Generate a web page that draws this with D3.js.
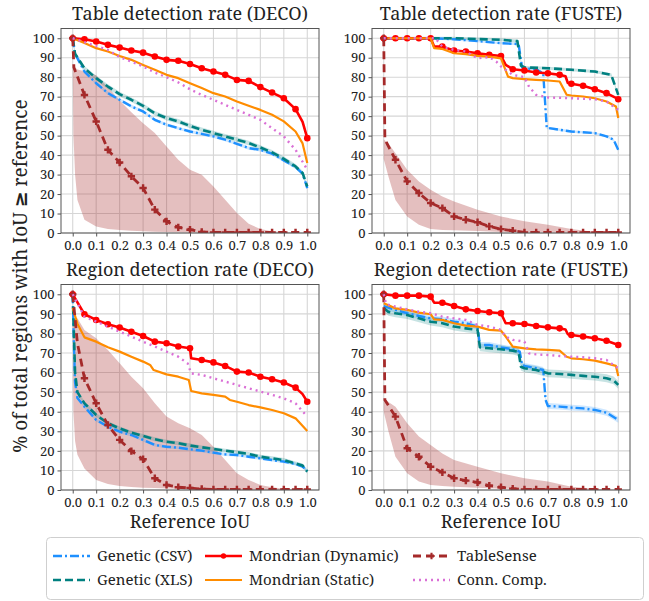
<!DOCTYPE html>
<html>
<head>
<meta charset="utf-8">
<script src="https://cdn.jsdelivr.net/npm/d3@7"></script>
<style>
  body { margin: 0; background: #fff; }
</style>
</head>
<body>
<svg id="chart" width="649" height="601"></svg>
<script>
const FONT = "Noto Serif";

// series names, legend order
const seriesNames = ["Genetic (CSV)", "Genetic (XLS)", "Mondrian (Dynamic)", "Mondrian (Static)", "TableSense", "Conn. Comp."];
const panelTitles = ["Table detection rate (DECO)", "Table detection rate (FUSTE)", "Region detection rate (DECO)", "Region detection rate (FUSTE)"];
const xTicks = [0, 0.1, 0.2, 0.3, 0.4, 0.5, 0.6, 0.7, 0.8, 0.9, 1.0];
const yTicks = [0, 10, 20, 30, 40, 50, 60, 70, 80, 90, 100];
const tsTail = [[0.65, 0.3], [0.7, 0.3], [0.75, 0.3], [0.8, 0.3], [0.85, 0.3], [0.9, 0.3], [0.95, 0.3], [1, 0.3]];

// --- Table detection rate (DECO)
const tdDecoCsv = [[0,100],[0.01,92],[0.05,82.9],[0.1,76.9],[0.15,71.8],[0.2,68.4],[0.25,65],[0.3,62.4],[0.35,58.1],[0.4,55.6],[0.45,53.8],[0.5,52.1],[0.55,50.9],[0.6,49.6],[0.65,47.9],[0.7,45.8],[0.75,43.6],[0.8,42.7],[0.85,40.7],[0.9,37.3],[0.95,33.8],[0.98,30.5],[1,23.1]];
const tdDecoXls = [[0,100],[0.01,92],[0.05,84.6],[0.1,79.5],[0.15,75.2],[0.2,71.3],[0.25,68.4],[0.3,65.3],[0.35,61.5],[0.4,59],[0.45,57.3],[0.5,55],[0.55,53],[0.6,51.3],[0.65,49.6],[0.7,47.9],[0.75,46.2],[0.8,43.9],[0.85,41.4],[0.9,38.1],[0.95,34.2],[0.98,30.8],[1,23.9]];
const tdDecoDyn = [[0,100],[0.05,99.5],[0.1,98.3],[0.15,96.6],[0.2,95.2],[0.25,93.7],[0.3,92.6],[0.35,90.6],[0.4,88.9],[0.45,88.4],[0.5,86.8],[0.55,84.6],[0.6,82.9],[0.65,81.2],[0.7,78.6],[0.75,78.1],[0.8,74.9],[0.85,72.1],[0.9,69.2],[0.95,63.6],[0.98,57],[1,48.7]];
const tdDecoSta = [[0,100],[0.05,97.5],[0.1,94.9],[0.15,93.2],[0.2,90.9],[0.25,88.9],[0.3,86.3],[0.35,83.8],[0.4,81.2],[0.45,79.5],[0.5,76.9],[0.55,74.4],[0.6,71.8],[0.65,70.1],[0.7,67.5],[0.75,65.3],[0.8,63.2],[0.85,60.7],[0.9,57.3],[0.95,52.1],[0.98,46],[1,35.9]];
const tdDecoTs = [[0,100],[0.005,85],[0.05,70.9],[0.1,57.3],[0.15,42.7],[0.2,36.2],[0.25,29.1],[0.3,23.1],[0.35,12],[0.4,6],[0.45,2.9],[0.5,1.7],[0.55,0.5],[0.6,0.3]].concat(tsTail);
const tdDecoCc = [[0,100],[0.05,98],[0.1,96],[0.15,94],[0.2,90.3],[0.25,88],[0.3,85.5],[0.35,82.4],[0.4,80],[0.45,77.3],[0.5,73.8],[0.55,70.9],[0.6,68.4],[0.65,65.8],[0.7,63.2],[0.75,60.7],[0.8,58.1],[0.85,53.8],[0.9,49.6],[0.95,42.7],[1,32.5]];
const tdDecoBand = [[0,86,86],[0.003,50,86],[0.01,30,85],[0.02,17,84],[0.05,6.8,83],[0.1,3.4,81],[0.15,2,75],[0.2,1.5,68],[0.25,1.2,62],[0.3,0.9,56.4],[0.35,0.7,51.3],[0.4,0.5,44.4],[0.45,0.4,37.6],[0.5,0.3,32.5],[0.55,0.2,29.9],[0.6,0.1,23.9],[0.65,0,17.1],[0.7,0,10.3],[0.75,0,4.8],[0.8,0,2],[0.85,0,0.9],[0.9,0,0.5],[1,0,0]];

// --- Table detection rate (FUSTE)
const tdFusteCsv = [[0,100],[0.2,100],[0.3,99.5],[0.4,98.5],[0.5,97.5],[0.575,97],[0.59,85],[0.6,84.6],[0.65,84],[0.68,82],[0.695,54],[0.75,53],[0.8,52.1],[0.9,51.3],[0.95,49.6],[0.98,47.9],[1,42.7]];
const tdFusteXls = [[0,100],[0.3,100],[0.5,99.2],[0.57,98.5],[0.585,86],[0.6,85],[0.7,84.6],[0.8,83.8],[0.9,82.9],[0.97,81.2],[1,70.9]];
const tdFusteDyn = [[0,100],[0.05,100],[0.1,100],[0.15,100],[0.2,100],[0.215,95.7],[0.25,95.7],[0.3,93.7],[0.35,93.2],[0.4,92.3],[0.45,91.5],[0.5,90.9],[0.52,86.3],[0.55,84.1],[0.6,83.4],[0.65,82.4],[0.7,82],[0.75,81.2],[0.775,80.5],[0.785,77],[0.8,76.6],[0.85,75.6],[0.9,73.8],[0.95,71.8],[1,68.7]];
const tdFusteSta = [[0,100],[0.2,100],[0.215,94.9],[0.25,94.5],[0.3,92.3],[0.35,91.8],[0.4,90.9],[0.45,90.6],[0.5,89.7],[0.53,80.3],[0.55,79.5],[0.6,79],[0.65,78.6],[0.7,78.3],[0.75,77.8],[0.78,71],[0.8,70.6],[0.85,70.1],[0.9,69.2],[0.95,67.5],[0.99,65],[1,59]];
const tdFusteTs = [[0,100],[0.005,48],[0.05,37.6],[0.1,26.5],[0.15,20.5],[0.2,15.4],[0.25,12.8],[0.3,8.5],[0.35,6.8],[0.4,5.5],[0.45,3.4],[0.5,2],[0.55,1.2],[0.6,0.3]].concat(tsTail);
const tdFusteCc = [[0,100],[0.22,100],[0.25,95.7],[0.3,94],[0.35,93.2],[0.4,89.7],[0.45,90.3],[0.48,88],[0.5,85.5],[0.55,81.2],[0.6,80],[0.62,75],[0.65,70.9],[0.7,69.6],[0.8,69.2],[0.9,68.7],[0.95,67.5],[1,63.2]];
const tdFusteBand = [[0,38,48],[0.02,29,46],[0.05,17,41],[0.1,8.5,32.5],[0.15,4.3,26.5],[0.2,2,22.2],[0.25,1.6,18.8],[0.3,1.4,16.2],[0.4,1,12],[0.5,0.5,8.5],[0.6,0.3,6],[0.7,0.2,4.3],[0.8,0,2],[0.9,0,0.5],[1,0,0]];

// --- Region detection rate (DECO)
const rdDecoCsv = [[0,100],[0.005,75],[0.01,55],[0.02,47],[0.05,42.6],[0.1,35.8],[0.15,32.4],[0.2,29.8],[0.25,28.1],[0.3,25.6],[0.35,23],[0.4,22.1],[0.45,21.6],[0.5,20.8],[0.55,20.1],[0.6,19.1],[0.65,18.2],[0.7,17.9],[0.75,17],[0.8,16.2],[0.85,15.3],[0.9,14.5],[0.95,13.3],[0.98,12],[1,9.7]];
const rdDecoXls = [[0,100],[0.005,80],[0.01,60],[0.02,50],[0.05,44.3],[0.1,38.3],[0.15,34.1],[0.2,31.5],[0.25,29.3],[0.3,27.6],[0.35,25.9],[0.4,24.7],[0.45,23.9],[0.5,22.7],[0.55,21.8],[0.6,21],[0.65,20.1],[0.7,19.3],[0.75,18.4],[0.8,17],[0.85,16.2],[0.9,15.3],[0.95,13.6],[0.98,12.5],[1,9.4]];
const rdDecoDyn = [[0,100],[0.05,89.8],[0.1,86.9],[0.15,84.7],[0.2,83],[0.25,80.9],[0.3,78.7],[0.35,75.8],[0.4,75],[0.45,73.3],[0.5,72.4],[0.505,67.3],[0.55,66.4],[0.6,65.2],[0.65,63.4],[0.7,60.5],[0.75,60],[0.8,57.9],[0.85,56.6],[0.9,54.9],[0.95,52.3],[0.98,49],[1,45.1]];
const rdDecoSta = [[0,93],[0.02,85],[0.05,78],[0.1,75.8],[0.15,72.9],[0.2,70.7],[0.25,68.1],[0.3,65.6],[0.33,63.9],[0.345,61.3],[0.4,59.1],[0.45,57.9],[0.495,56.2],[0.505,50.6],[0.55,49.4],[0.6,48.6],[0.65,47.7],[0.67,46],[0.7,45.1],[0.75,43.4],[0.8,42.2],[0.85,40.9],[0.9,39.2],[0.95,36.6],[1,30.2]];
const rdDecoTs = [[0,100],[0.02,75],[0.05,57.1],[0.1,44.3],[0.15,33.2],[0.2,25.6],[0.25,19.9],[0.3,15.7],[0.35,6],[0.4,2.6],[0.45,1.4],[0.5,1],[0.55,0.5],[0.6,0.3]].concat(tsTail);
const rdDecoCc = [[0,100],[0.05,88.6],[0.1,86],[0.15,83.5],[0.2,80.9],[0.25,78.4],[0.3,75.8],[0.35,73.3],[0.4,70.7],[0.45,68.1],[0.49,64.7],[0.505,59.6],[0.55,58.8],[0.6,57.1],[0.65,55.4],[0.7,53.7],[0.75,52],[0.8,50.3],[0.85,48.6],[0.9,46.8],[0.95,44.3],[1,37.5]];
const rdDecoBand = [[0,87,87],[0.003,40,87.5],[0.01,25,87.7],[0.02,18,87.7],[0.05,11,81.8],[0.1,5.1,77.5],[0.15,3.1,71.5],[0.2,2,64.7],[0.25,1.5,57.9],[0.3,1.2,52],[0.35,1,44.3],[0.4,0.8,37.5],[0.45,0.6,34.1],[0.5,0.5,31.5],[0.55,0.4,28.1],[0.6,0.3,22.1],[0.65,0.2,15.3],[0.7,0.1,8.5],[0.75,0,5.1],[0.8,0,2.6],[0.85,0,1.4],[0.9,0,0.7],[1,0,0]];

// --- Region detection rate (FUSTE)
const rdFusteCsv = [[0,94],[0.05,92],[0.1,90.3],[0.15,88.9],[0.2,87.7],[0.25,87.2],[0.3,86],[0.35,85.2],[0.4,83.5],[0.41,74.1],[0.45,74.1],[0.5,72.9],[0.55,71.9],[0.58,70.7],[0.59,63.9],[0.6,63.4],[0.65,62.2],[0.68,61.3],[0.69,46],[0.7,42.9],[0.75,42.6],[0.8,42.1],[0.85,41.7],[0.9,40.9],[0.95,39.5],[1,35.8]];
const rdFusteXls = [[0,93],[0.02,91],[0.05,90.3],[0.1,89.4],[0.15,87.7],[0.2,86],[0.25,85.2],[0.3,83.5],[0.35,82.6],[0.4,81.8],[0.41,72.9],[0.45,72.4],[0.5,71.9],[0.55,71.2],[0.575,70.5],[0.585,63],[0.6,62.2],[0.65,61.3],[0.7,59.6],[0.75,59.3],[0.8,58.8],[0.85,58.3],[0.9,57.9],[0.95,57.1],[0.98,56],[1,53.7]];
const rdFusteDyn = [[0,100],[0.05,99.3],[0.1,99.3],[0.15,99.3],[0.2,98.8],[0.215,95.7],[0.25,95.7],[0.3,94],[0.35,92.3],[0.4,91.5],[0.45,90.8],[0.5,90.3],[0.52,85.2],[0.55,85.2],[0.6,84.8],[0.65,83.8],[0.7,83.1],[0.75,82.6],[0.775,82],[0.785,79.6],[0.8,79.2],[0.85,78.4],[0.9,77.5],[0.95,76.3],[1,74.1]];
const rdFusteSta = [[0,95.4],[0.05,92.8],[0.1,92],[0.15,90.6],[0.2,89.8],[0.215,87.2],[0.25,86.9],[0.3,85.2],[0.35,84],[0.4,83.5],[0.45,81.8],[0.5,81.4],[0.52,78.4],[0.55,73.3],[0.6,72.4],[0.65,71.9],[0.7,71.6],[0.75,71.2],[0.78,68.1],[0.8,67.3],[0.85,66.8],[0.9,66.1],[0.95,64.7],[0.99,63.4],[1,58.3]];
const rdFusteTs = [[0,100],[0.005,46],[0.05,37.5],[0.1,21.3],[0.15,17],[0.2,11.9],[0.25,9],[0.3,6],[0.35,4.8],[0.4,3.9],[0.45,2.2],[0.5,1.4],[0.55,0.7],[0.6,0.3]].concat(tsTail);
const rdFusteCc = [[0,100],[0.01,95],[0.05,93.7],[0.1,92.3],[0.15,91.1],[0.2,90.3],[0.25,88.6],[0.3,87.7],[0.35,86.9],[0.4,84.3],[0.45,83.5],[0.5,81.8],[0.52,78.4],[0.55,76.7],[0.6,75.8],[0.62,69.8],[0.65,69.3],[0.7,69],[0.75,68.5],[0.8,68.1],[0.85,67.8],[0.9,67.3],[0.95,66.4],[1,62.2]];
const rdFusteBand = [[0,40,47],[0.02,30,45],[0.05,17,42.6],[0.1,8.5,34.1],[0.15,4.3,27.3],[0.2,2.6,23],[0.25,2,18.7],[0.3,1.7,15.3],[0.4,1.2,11.9],[0.5,0.7,8.5],[0.6,0.4,6],[0.7,0.2,4.3],[0.8,0,1.7],[0.9,0,0.7],[1,0,0]];

// spread (+/-) of the genetic runs, per panel
const xlsSpread = [1.2, 0.8, 1.0, 2.0];
const csvSpread = [0.8, 0.6, 0.8, 1.5];

// styl car pro kazdou serii
const styles = [
    {color: "#1e90ff", width: 2.4, dash: "9,3,2,3"},
    {color: "#008080", width: 2.6, dash: "8,4"},
    {color: "#ff0000", width: 2.6, dash: null, marker: "circle"},
    {color: "#ff8c00", width: 2.2, dash: null},
    {color: "#a52a2a", width: 2.8, dash: "8,5", marker: "plus"},
    {color: "#da70d6", width: 2.4, dash: "2,4"}
];

const panels = [
    {series: [tdDecoCsv, tdDecoXls, tdDecoDyn, tdDecoSta, tdDecoTs, tdDecoCc], band: tdDecoBand, x0: 61, x1: 319, y0: 28.5, y1: 233},
    {series: [tdFusteCsv, tdFusteXls, tdFusteDyn, tdFusteSta, tdFusteTs, tdFusteCc], band: tdFusteBand, x0: 372, x1: 630, y0: 28.5, y1: 233},
    {series: [rdDecoCsv, rdDecoXls, rdDecoDyn, rdDecoSta, rdDecoTs, rdDecoCc], band: rdDecoBand, x0: 61, x1: 319, y0: 284.5, y1: 490},
    {series: [rdFusteCsv, rdFusteXls, rdFusteDyn, rdFusteSta, rdFusteTs, rdFusteCc], band: rdFusteBand, x0: 372, x1: 630, y0: 284.5, y1: 490}
];

const svg = d3.select("#chart").attr("font-family", FONT);

// je x nasobek 0.05 -> marker
const onGrid = (x) => Math.abs(x * 20 - Math.round(x * 20)) < 1e-6;

panels.forEach((p, i) => {
    const x = d3.scaleLinear().domain([-0.05, 1.05]).range([p.x0, p.x1]);
    const y = d3.scaleLinear().domain([0, 105]).range([p.y1, p.y0]);
    const g = svg.append("g");

    // mrizka
    g.append("g").selectAll("line").data(xTicks).join("line")
        .attr("x1", d => x(d)).attr("x2", d => x(d))
        .attr("y1", p.y0).attr("y2", p.y1)
        .attr("stroke", "#d6d6d6").attr("stroke-width", 1.1);
    g.append("g").selectAll("line").data(yTicks).join("line")
        .attr("x1", p.x0).attr("x2", p.x1)
        .attr("y1", d => y(d)).attr("y2", d => y(d))
        .attr("stroke", "#d6d6d6").attr("stroke-width", 1.1);

    const clipId = "clip" + i;
    svg.append("clipPath").attr("id", clipId).append("rect")
        .attr("x", p.x0).attr("y", p.y0 - 6).attr("width", p.x1 - p.x0 + 6).attr("height", p.y1 - p.y0 + 6);
    const plot = g.append("g").attr("clip-path", `url(#${clipId})`);

    // pasy (rozptyl)
    const area = d3.area().x(d => x(d[0])).y0(d => y(d[1])).y1(d => y(d[2]));
    plot.append("path").datum(p.band).attr("d", area)
        .attr("fill", "#a52a2a").attr("fill-opacity", 0.3);
    [[0, csvSpread[i]], [1, xlsSpread[i]]].forEach(([k, s]) => {
        const band = p.series[k].map(d => [d[0], d[1] - s, d[1] + s]);
        plot.append("path").datum(band).attr("d", area)
            .attr("fill", styles[k].color).attr("fill-opacity", 0.22);
    });

    const line = d3.line().x(d => x(d[0])).y(d => y(d[1]));
    p.series.forEach((data, k) => {
        const st = styles[k];
        plot.append("path").datum(data).attr("d", line)
            .attr("fill", "none").attr("stroke", st.color)
            .attr("stroke-width", st.width)
            .attr("stroke-dasharray", st.dash)
            .attr("stroke-linejoin", "round");
        if (st.marker) {
            const pts = data.filter(d => onGrid(d[0]));
            const sym = st.marker === "circle" ? d3.symbolCircle : d3.symbolCross;
            plot.append("g").selectAll("path").data(pts).join("path")
                .attr("transform", d => `translate(${x(d[0])},${y(d[1])})`)
                .attr("d", d3.symbol(sym, st.marker === "circle" ? 34 : 30))
                .attr("fill", st.color);
        }
    });

    // ramecek
    g.append("rect").attr("x", p.x0).attr("y", p.y0)
        .attr("width", p.x1 - p.x0).attr("height", p.y1 - p.y0)
        .attr("fill", "none").attr("stroke", "#555").attr("stroke-width", 1);

    // osy
    g.append("g").attr("transform", `translate(0,${p.y1})`)
        .call(d3.axisBottom(x).tickValues(xTicks).tickFormat(d3.format(".1f")).tickSize(3.5).tickPadding(4))
        .attr("font-family", FONT).attr("font-size", 13)
        .call(a => a.select(".domain").remove())
        .call(a => a.selectAll("line").attr("stroke", "#555"))
        .call(a => a.selectAll("text").attr("fill", "#222"));
    g.append("g").attr("transform", `translate(${p.x0},0)`)
        .call(d3.axisLeft(y).tickValues(yTicks).tickSize(3.5).tickPadding(3))
        .attr("font-family", FONT).attr("font-size", 13)
        .call(a => a.select(".domain").remove())
        .call(a => a.selectAll("line").attr("stroke", "#555"))
        .call(a => a.selectAll("text").attr("fill", "#222"));

    // nadpis
    g.append("text").attr("x", (p.x0 + p.x1) / 2).attr("y", p.y0 - 9)
        .attr("text-anchor", "middle").attr("font-size", 18).attr("fill", "#222")
        .text(panelTitles[i]);
    if (i >= 2) {
        g.append("text").attr("x", (p.x0 + p.x1) / 2).attr("y", p.y1 + 38)
            .attr("text-anchor", "middle").attr("font-size", 18).attr("fill", "#222")
            .text("Reference IoU");
    }
});

// popisek osy y
const yl = svg.append("text")
    .attr("transform", "translate(27,276) rotate(-90)")
    .attr("text-anchor", "middle").attr("font-size", 19).attr("fill", "#222");
yl.append("tspan").text("% of total regions with IoU  ");
yl.append("tspan").attr("font-family", "DejaVu Sans").attr("font-weight", "bold").text("≥");
yl.append("tspan").text("  reference");

// legenda
const legend = svg.append("g");
legend.append("rect").attr("x", 46.5).attr("y", 537.5).attr("width", 597).attr("height", 62)
    .attr("rx", 4).attr("fill", "#fff").attr("stroke", "#cfcfcf");
const legCols = [53, 205, 413];
const legRows = [556, 580];
seriesNames.forEach((name, k) => {
    const st = styles[k];
    const cx = legCols[Math.floor(k / 2)];
    const cy = legRows[k % 2];
    legend.append("line").attr("x1", cx).attr("x2", cx + 37).attr("y1", cy).attr("y2", cy)
        .attr("stroke", st.color).attr("stroke-width", st.width).attr("stroke-dasharray", st.dash);
    if (st.marker) {
        legend.append("path").attr("transform", `translate(${cx + 18.5},${cy})`)
            .attr("d", d3.symbol(st.marker === "circle" ? d3.symbolCircle : d3.symbolCross, 22))
            .attr("fill", st.color);
    }
    legend.append("text").attr("x", cx + 44).attr("y", cy + 5)
        .attr("font-size", 15).attr("fill", "#222").text(name);
});
</script>
</body>
</html>
